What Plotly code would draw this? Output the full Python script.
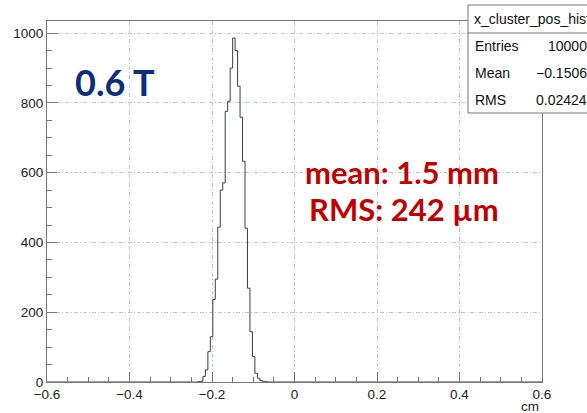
import numpy as np
import plotly.graph_objects as go

# ---- data ----
bin_width = 0.006
x_min, x_max = -0.6, 0.6
first_nonzero_edge = -0.234
counts_nonzero = [1, 2, 16, 35, 87, 130, 237, 295, 444, 550, 571, 776, 805, 900,
                  986, 950, 848, 759, 633, 441, 269, 144, 73, 25, 11, 4, 2, 1]

stats_title = "x_cluster_pos_hist"
stats_labels = ["Entries", "Mean", "RMS"]
stats_values = ["10000", "\u22120.1506", "0.02424"]

x_ticks = [-0.6, -0.4, -0.2, 0, 0.2, 0.4, 0.6]
x_ticklabels = ["\u22120.6", "\u22120.4", "\u22120.2", "0", "0.2", "0.4", "0.6"]
y_ticks = [0, 200, 400, 600, 800, 1000]

# ---- build full histogram ----
nbins = int(round((x_max - x_min) / bin_width))
edges = x_min + bin_width * np.arange(nbins + 1)
counts = np.zeros(nbins)
i0 = int(round((first_nonzero_edge - x_min) / bin_width))
counts[i0:i0 + len(counts_nonzero)] = counts_nonzero

xs = np.append(edges[:-1], edges[-1])
ys = np.append(counts, counts[-1])

W, H = 587, 413
L, R, T, B = 47, 542, 21, 382


def px(xpix):
    return (xpix - L) / (R - L)


def py(ypix):
    return (B - ypix) / (B - T)


fig = go.Figure()
fig.add_trace(go.Scatter(x=xs, y=ys, mode="lines", line_shape="hv",
                         line=dict(color="#3c3c4e", width=1), hoverinfo="skip",
                         showlegend=False))

axis_font = dict(family="Liberation Sans, Arial, sans-serif", size=13.5, color="#222222")
grid_dash = "4px,2px,1px,2px"

fig.update_layout(
    width=W, height=H,
    margin=dict(l=L, r=W - R, t=T, b=H - B),
    paper_bgcolor="white", plot_bgcolor="white",
    showlegend=False,
    xaxis=dict(range=[x_min, x_max], tickvals=x_ticks, ticktext=x_ticklabels,
               ticks="inside", ticklen=10, tickcolor="#777777",
               showline=True, linecolor="#777777", linewidth=1, mirror=True,
               showgrid=True, gridcolor="#c4c4c4", griddash=grid_dash, gridwidth=1,
               zeroline=False, tickfont=axis_font,
               minor=dict(ticks="inside", ticklen=5, dtick=0.05, tickcolor="#777777",
                          showgrid=False)),
    yaxis=dict(range=[0, 1035], tickvals=y_ticks,
               ticks="inside", ticklen=10, tickcolor="#777777",
               showline=True, linecolor="#777777", linewidth=1, mirror=True,
               showgrid=True, gridcolor="#c4c4c4", griddash=grid_dash, gridwidth=1,
               zeroline=False, tickfont=axis_font,
               minor=dict(ticks="inside", ticklen=5, dtick=50, tickcolor="#777777",
                          showgrid=False)),
)

# stats box
fig.add_shape(type="rect", xref="paper", yref="paper",
              x0=px(468), x1=px(600), y0=py(113), y1=py(5),
              line=dict(color="#777777", width=1), fillcolor="white", layer="above")
fig.add_shape(type="line", xref="paper", yref="paper",
              x0=px(468), x1=px(600), y0=py(33), y1=py(33),
              line=dict(color="#777777", width=1), layer="above")

sfont = dict(family="Liberation Sans, Arial, sans-serif", size=14, color="#111111")
fig.add_annotation(xref="paper", yref="paper", x=px(472), y=py(19), text=stats_title,
                   showarrow=False, xanchor="left", yanchor="middle", font=sfont)
for i, (lab, val) in enumerate(zip(stats_labels, stats_values)):
    yy = py(46 + 27 * i)
    fig.add_annotation(xref="paper", yref="paper", x=px(473), y=yy, text=lab,
                       showarrow=False, xanchor="left", yanchor="middle", font=sfont)
    fig.add_annotation(xref="paper", yref="paper", x=px(589), y=yy, text=val,
                       showarrow=False, xanchor="right", yanchor="middle", font=sfont)

# axis title
fig.add_annotation(xref="paper", yref="paper", x=px(541), y=py(406), text="cm",
                   showarrow=False, xanchor="right", yanchor="middle", font=axis_font)

# slide annotations
fig.add_annotation(xref="paper", yref="paper", x=px(115), y=py(82), text="<b>0.6 T</b>",
                   showarrow=False, xanchor="center", yanchor="middle",
                   font=dict(family="Lato, Open Sans, sans-serif", size=36, color="#0b2d7a"))
fig.add_annotation(xref="paper", yref="paper", x=px(402), y=py(172), text="<b>mean: 1.5 mm</b>",
                   showarrow=False, xanchor="center", yanchor="middle",
                   font=dict(family="Lato, Open Sans, sans-serif", size=31, color="#c00000"))
fig.add_annotation(xref="paper", yref="paper", x=px(404), y=py(209), text="<b>RMS: 242 \u00b5m</b>",
                   showarrow=False, xanchor="center", yanchor="middle",
                   font=dict(family="Lato, Open Sans, sans-serif", size=31, color="#c00000"))

fig.write_html("out.html", config={"displayModeBar": False},
               post_script="document.body.style.margin='0';document.body.style.overflow='hidden';")
